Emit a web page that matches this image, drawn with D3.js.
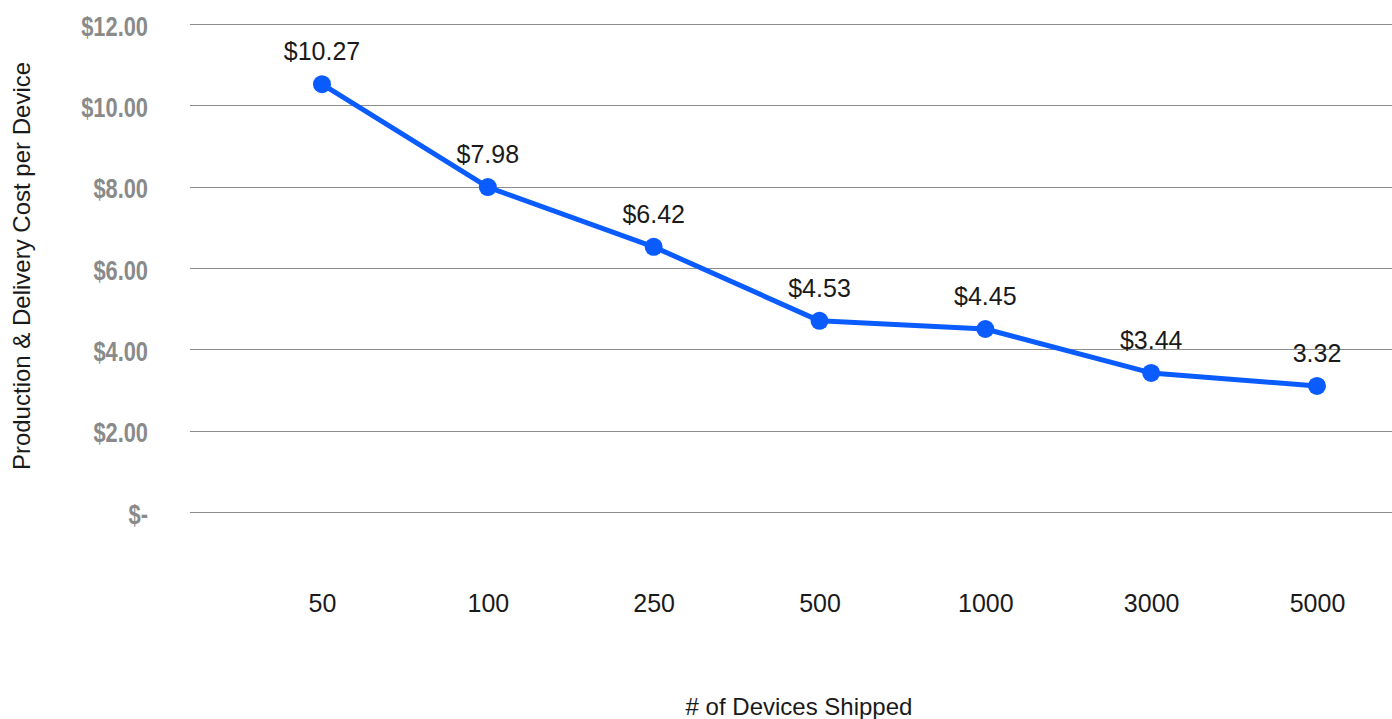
<!DOCTYPE html>
<html>
<head>
<meta charset="utf-8">
<script src="https://cdn.jsdelivr.net/npm/d3@7"></script>
<style>
  html, body { margin: 0; padding: 0; background: #fff; }
  svg { display: block; }
</style>
</head>
<body>
<svg id="chart" width="1392" height="719"></svg>
<script>
// ---- data ----
const categories = ["50", "100", "250", "500", "1000", "3000", "5000"];
const costValues = [10.52, 7.99, 6.52, 4.70, 4.50, 3.42, 3.10];
const pointLabels = ["$10.27", "$7.98", "$6.42", "$4.53", "$4.45", "$3.44", "3.32"];
const yTickValues = [0, 2, 4, 6, 8, 10, 12];
const yTickLabels = ["$-", "$2.00", "$4.00", "$6.00", "$8.00", "$10.00", "$12.00"];
const xTitle = "# of Devices Shipped";
const yTitle = "Production & Delivery Cost per Device";

// ---- layout ----
const svg = d3.select("#chart");
const plotLeft = 190, plotRight = 1392, plotTop = 24, plotBottom = 512;
const x = d3.scalePoint().domain(categories).range([322, 1317]);
const y = d3.scaleLinear().domain([0, 12]).range([plotBottom, plotTop]);

const textFont = "'Liberation Sans', Arial, Helvetica, sans-serif";
const tickFont = "'Liberation Sans', Arial, sans-serif";

// grid lines
svg.append("g")
  .selectAll("line")
  .data(yTickValues)
  .join("line")
  .attr("x1", plotLeft).attr("x2", plotRight)
  .attr("y1", d => Math.round(y(d)) + 0.5).attr("y2", d => Math.round(y(d)) + 0.5)
  .attr("stroke", "#8c8c8c").attr("stroke-width", 1);

// y axis labels (condensed look via horizontal scaling)
const yAxis = d3.axisLeft(y)
  .tickValues(yTickValues)
  .tickFormat((d, i) => yTickLabels[i])
  .tickSize(0).tickPadding(0);
const yg = svg.append("g").attr("transform", "translate(148,0)").call(yAxis);
yg.select(".domain").remove();
yg.selectAll("text")
  .attr("font-family", tickFont)
  .attr("font-weight", "bold")
  .attr("font-size", 28)
  .attr("fill", "#8a8a8a")
  .attr("x", 0)
  .attr("dy", "0.40em")
  .attr("transform", "scale(0.78,1)");

// x axis labels
const xAxis = d3.axisBottom(x).tickSize(0).tickPadding(0);
const xg = svg.append("g").attr("transform", "translate(0,594)").call(xAxis);
xg.select(".domain").remove();
xg.selectAll("text")
  .attr("font-family", textFont)
  .attr("font-size", 25)
  .attr("fill", "#1a1a1a")
  .attr("dy", "0.71em");

// line
const line = d3.line()
  .x((d, i) => x(categories[i]))
  .y(d => y(d));
svg.append("path")
  .datum(costValues)
  .attr("d", line)
  .attr("fill", "none")
  .attr("stroke", "#0a5cff")
  .attr("stroke-width", 5)
  .attr("stroke-linejoin", "round");

// points
svg.append("g")
  .selectAll("circle")
  .data(costValues)
  .join("circle")
  .attr("cx", (d, i) => x(categories[i]))
  .attr("cy", d => y(d))
  .attr("r", 9)
  .attr("fill", "#0a5cff");

// point labels
svg.append("g")
  .selectAll("text")
  .data(costValues)
  .join("text")
  .attr("x", (d, i) => x(categories[i]))
  .attr("y", d => y(d) - 24)
  .attr("text-anchor", "middle")
  .attr("font-family", textFont)
  .attr("font-size", 25)
  .attr("fill", "#1a1a1a")
  .text((d, i) => pointLabels[i]);

// axis titles
svg.append("text")
  .attr("x", 799).attr("y", 715)
  .attr("text-anchor", "middle")
  .attr("font-family", textFont)
  .attr("font-size", 24)
  .attr("fill", "#1a1a1a")
  .text(xTitle);

svg.append("text")
  .attr("transform", "translate(30,266) rotate(-90)")
  .attr("text-anchor", "middle")
  .attr("font-family", textFont)
  .attr("font-size", 24)
  .attr("fill", "#1a1a1a")
  .text(yTitle);
</script>
</body>
</html>
